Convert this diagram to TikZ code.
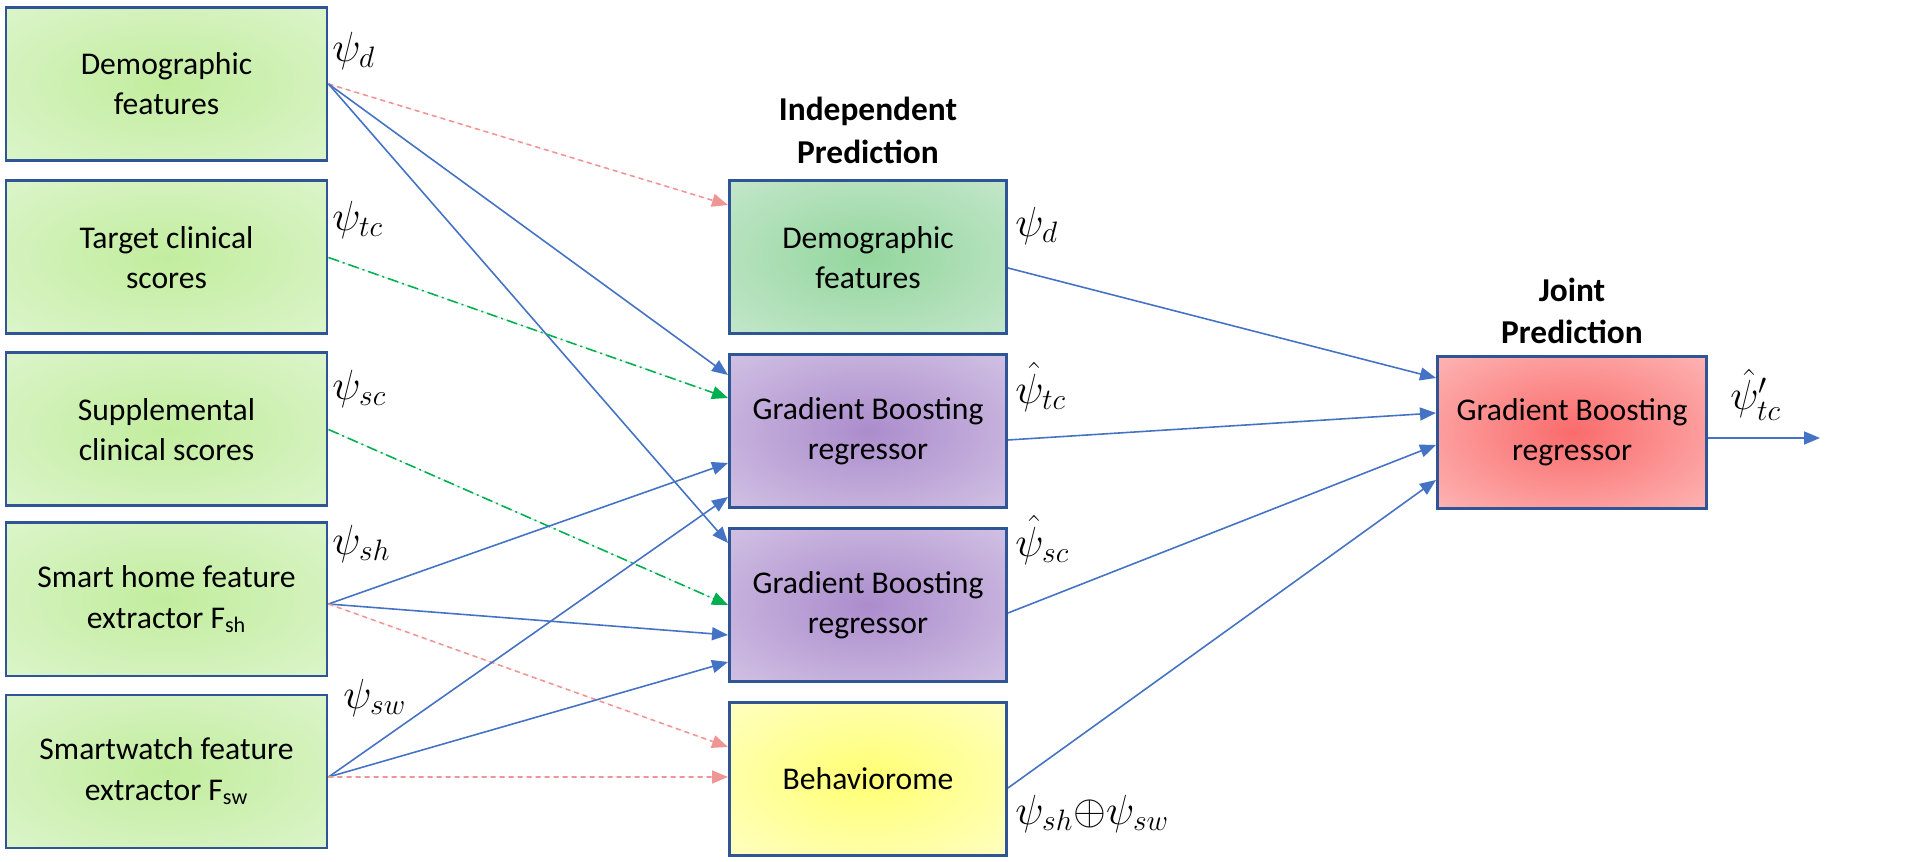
\RequirePackage{fix-cm}
\documentclass[tikz,border=0pt]{standalone}
\usepackage{amsmath}
\usepackage{fontspec}
\setmainfont{Carlito}
\usepackage{xcolor}
\usepackage{tikz}
\usetikzlibrary{
    positioning,
    arrows.meta,
    calc
}
\definecolor{boxblue}{RGB}{47,85,151}
\definecolor{lineblue}{RGB}{68,114,196}
\definecolor{dashred}{RGB}{238,150,150}
\definecolor{dashgreen}{RGB}{0,176,80}
% radial fills of the boxes
\pgfdeclareradialshading{inputglow}{\pgfpoint{0bp}{0bp}}{rgb(0bp)=(0.76,0.93,0.62); rgb(50bp)=(0.90,0.97,0.86)}
\pgfdeclareradialshading{demoglow}{\pgfpoint{0bp}{0bp}}{rgb(0bp)=(0.58,0.84,0.62); rgb(50bp)=(0.84,0.93,0.86)}
\pgfdeclareradialshading{gbglow}{\pgfpoint{0bp}{0bp}}{rgb(0bp)=(0.67,0.55,0.80); rgb(50bp)=(0.88,0.84,0.93)}
\pgfdeclareradialshading{behavglow}{\pgfpoint{0bp}{0bp}}{rgb(0bp)=(1.0,1.0,0.45); rgb(50bp)=(1.0,1.0,0.88)}
\pgfdeclareradialshading{jointglow}{\pgfpoint{0bp}{0bp}}{rgb(0bp)=(0.98,0.42,0.42); rgb(50bp)=(1.0,0.82,0.82)}
\tikzset{
    inputbox/.style={
        rectangle, draw=boxblue, line width=1.7pt,
        minimum width=6.42cm, minimum height=3.06cm,
        align=center, font=\fontsize{18}{22.8}\selectfont,
        shading=inputglow
    },
    predbox/.style={
        rectangle, draw=boxblue, line width=1.7pt,
        minimum width=5.54cm, minimum height=3.06cm,
        align=center, font=\fontsize{18}{22.8}\selectfont
    },
    arrow/.style={
        -{Triangle[length=0.32cm, width=0.26cm]}, line width=0.9pt, draw=lineblue, fill=lineblue
    },
    redarrow/.style={
        -{Triangle[length=0.32cm, width=0.26cm]}, line width=0.9pt, draw=dashred, fill=dashred,
        dash pattern=on 0.1cm off 0.08cm
    },
    greenarrow/.style={
        -{Triangle[length=0.32cm, width=0.26cm]}, line width=0.9pt, draw=dashgreen, fill=dashgreen,
        dash pattern=on 0.22cm off 0.08cm on 0.04cm off 0.08cm
    },
    blocktitle/.style={
        font=\bfseries\fontsize{19}{24}\selectfont, align=center
    }
}

\begin{document}
\begin{tikzpicture}[
    psi_label/.style={anchor=west, inner sep=0pt, font=\fontsize{24}{29}\selectfont}
  ]
    \useasboundingbox (0,0) rectangle (38.4,17.24);

    % input features
    \node[inputbox] (in_demo) at (3.33,15.56) {Demographic\\features};
    \node[inputbox] (in_target) at (3.33,12.09) {Target clinical\\scores};
    \node[inputbox] (in_supp) at (3.33,8.65) {Supplemental\\clinical scores};
    \node[inputbox] (in_home) at (3.33,5.25) {Smart home feature\\extractor F\textsubscript{sh}};
    \node[inputbox] (in_watch) at (3.33,1.81) {Smartwatch feature\\extractor F\textsubscript{sw}};

    \node[psi_label] (psi_d_in) at (6.64,16.23) {$\psi_d$};
    \node[psi_label] (psi_tc_in) at (6.64,12.84) {$\psi_{tc}$};
    \node[psi_label] (psi_sc_in) at (6.64,9.46) {$\psi_{sc}$};
    \node[psi_label] (psi_sh_in) at (6.64,6.36) {$\psi_{sh}$};
    \node[psi_label] (psi_sw_in) at (6.86,3.28) {$\psi_{sw}$};

    % independent prediction
    \node[predbox, shading=demoglow] (ind_demo) at (17.36,12.09) {Demographic\\features};
    \node[predbox, shading=gbglow] (gb_tc) at (17.36,8.62) {Gradient Boosting\\regressor};
    \node[predbox, shading=gbglow] (gb_sc) at (17.36,5.14) {Gradient Boosting\\regressor};
    \node[predbox, shading=behavglow] (behav) at (17.36,1.66) {Behaviorome};
    \node[blocktitle, above=0.2cm of ind_demo] (ind_title) {Independent\\Prediction};

    \node[psi_label] (psi_d_mid) at (20.3,12.72) {$\psi_d$};
    \node[psi_label] (psi_tc_mid) at (20.3,9.5) {$\hat{\psi}_{tc}$};
    \node[psi_label] (psi_sc_mid) at (20.3,6.44) {$\hat{\psi}_{sc}$};
    \node[psi_label] (psi_behav) at (20.3,0.96) {$\psi_{sh}{\oplus}\psi_{sw}$};

    % joint prediction
    \node[predbox, shading=jointglow, minimum width=5.38cm, minimum height=3.04cm] (joint_gb) at (31.44,8.59) {Gradient Boosting\\regressor};
    \node[blocktitle, above=0.1cm of joint_gb] (joint_title) {Joint\\Prediction};
    \node[psi_label] (psi_out) at (34.6,9.34) {$\hat{\psi}'_{tc}$};
    \coordinate (out_end) at (36.4,8.48);

    % inputs -> independent predictors
    \draw[redarrow] (in_demo.east) -- ([yshift=1.05cm]ind_demo.west);
    \draw[arrow] (in_demo.east) -- ([yshift=1.12cm]gb_tc.west);
    \draw[arrow] (in_demo.east) -- ([yshift=1.24cm]gb_sc.west);
    \draw[greenarrow] (in_target.east) -- ([yshift=0.66cm]gb_tc.west);
    \draw[greenarrow] (in_supp.east) -- (gb_sc.west);
    \draw[arrow] ([yshift=-0.09cm]in_home.east) -- ([yshift=-0.64cm]gb_tc.west);
    \draw[arrow] ([yshift=-0.09cm]in_home.east) -- ([yshift=-0.6cm]gb_sc.west);
    \draw[redarrow] ([yshift=-0.09cm]in_home.east) -- ([yshift=0.64cm]behav.west);
    \draw[arrow] ([yshift=-0.11cm]in_watch.east) -- ([yshift=-1.32cm]gb_tc.west);
    \draw[arrow] ([yshift=-0.11cm]in_watch.east) -- ([yshift=-1.14cm]gb_sc.west);
    \draw[redarrow] ([yshift=-0.11cm]in_watch.east) -- ([yshift=0.04cm]behav.west);

    % independent -> joint
    \draw[arrow] ([yshift=-0.21cm]ind_demo.east) -- ([yshift=1.09cm]joint_gb.west);
    \draw[arrow] ([yshift=-0.18cm]gb_tc.east) -- ([yshift=0.39cm]joint_gb.west);
    \draw[arrow] ([yshift=-0.16cm]gb_sc.east) -- ([yshift=-0.25cm]joint_gb.west);
    \draw[arrow] ([yshift=-0.18cm]behav.east) -- ([yshift=-0.95cm]joint_gb.west);
    \draw[arrow] ([yshift=-0.11cm]joint_gb.east) -- (out_end);

\end{tikzpicture}
\end{document}
